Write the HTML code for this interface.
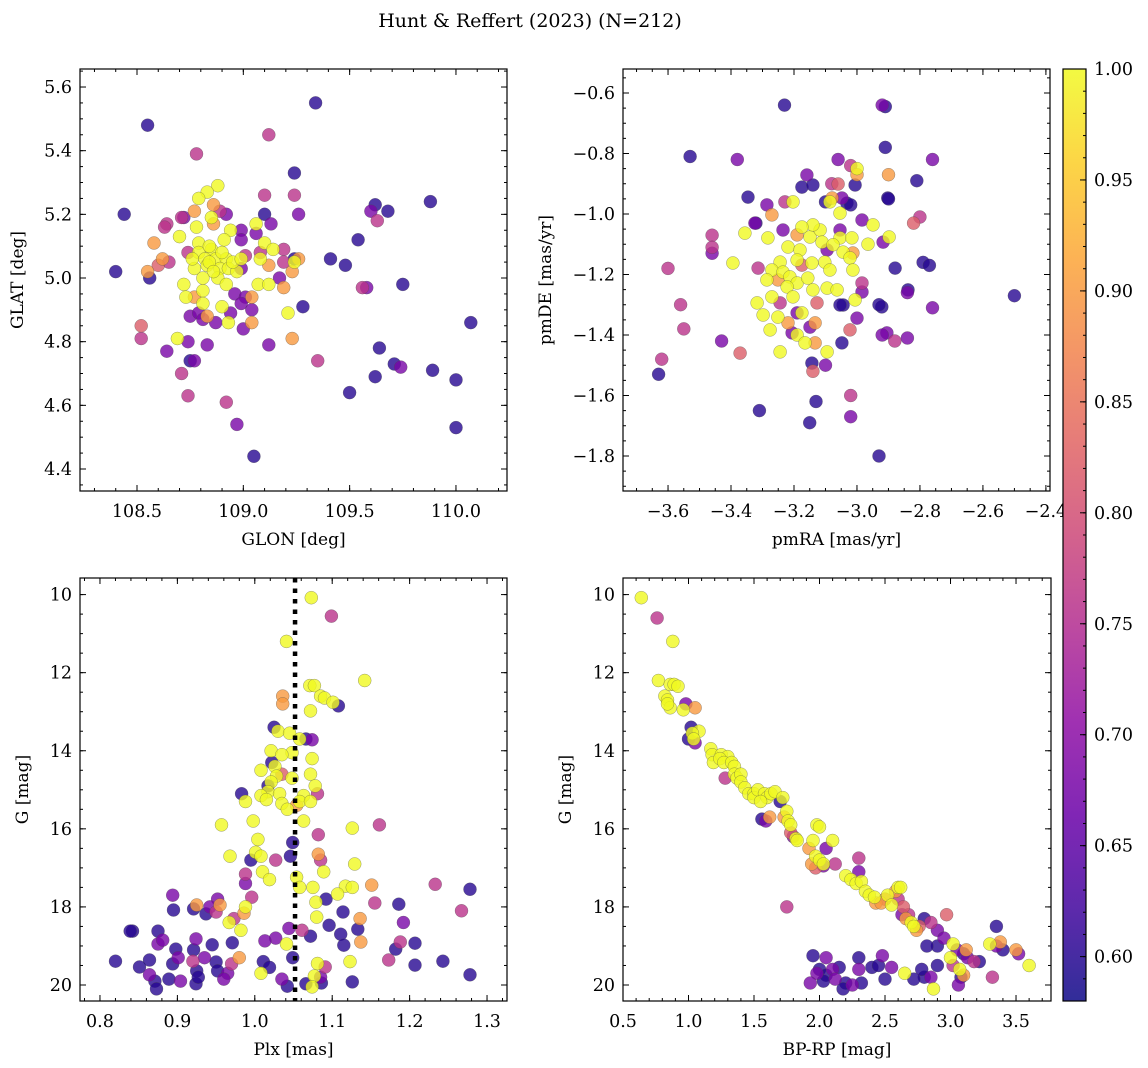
<!DOCTYPE html>
<html>
<head>
<meta charset="utf-8">
<style>
html,body{margin:0;padding:0;background:#fff;}
svg{display:block;font-family:"DejaVu Serif","Liberation Serif",serif;}
</style>
</head>
<body>
<svg id="fig" width="1148" height="1068" viewBox="0 0 1148 1068" xmlns="http://www.w3.org/2000/svg">
<rect x="0" y="0" width="1148" height="1068" fill="#fff"/>
<text x="530" y="27" font-size="19" text-anchor="middle">Hunt &amp; Reffert (2023) (N=212)</text>
</svg>
<script>
// ---------- Panel 1: GLON vs GLAT ----------
const p1Glon = [108.88,108.83,108.79,108.85,108.78,108.70,108.94,109.06,108.79,108.91,108.79,108.85,108.82,108.87,108.92,108.77,108.83,108.89,108.93,108.97,108.88,108.72,108.92,109.10,109.14,109.08,109.24,109.07,109.12,108.81,108.73,108.81,108.90,108.93,109.21,108.69,108.84,108.86,108.90,108.81,108.76,108.95,108.84,108.99,
108.77,108.86,108.86,108.62,109.12,109.23,109.26,109.19,109.04,108.77,108.83,109.04,109.23,108.58,108.55,
108.60,108.52,
109.24,108.64,108.65,109.01,109.19,109.08,108.74,109.19,108.89,109.35,108.63,108.71,108.78,109.12,109.10,108.52,108.71,108.74,108.92,109.63,109.56,
108.92,108.72,109.13,108.99,109.06,108.99,108.99,109.17,108.96,109.01,108.99,108.75,108.79,109.04,108.94,108.81,108.87,109.00,108.83,108.74,109.12,108.64,108.77,109.26,109.60,109.58,109.74,108.97,
108.55,108.44,108.40,108.56,109.34,109.24,109.24,109.28,109.50,109.41,109.48,109.54,109.64,109.62,109.71,109.75,109.88,109.89,110.00,110.07,110.00,109.05,109.10,109.68,109.62,108.75];
const p1Glat = [5.29,5.27,5.25,5.19,5.16,5.13,5.15,5.17,5.11,5.12,5.08,5.09,5.06,5.06,5.06,5.03,5.04,5.03,5.03,5.02,5.00,4.98,4.98,5.11,5.09,5.06,5.05,4.98,4.98,4.96,4.94,4.92,4.91,4.86,4.89,4.81,5.05,5.02,5.08,5.00,5.06,5.05,5.10,5.06,
5.21,5.23,5.17,5.06,5.04,5.02,5.06,4.97,4.94,4.94,4.88,4.86,4.81,5.11,5.02,
5.04,4.85,
5.26,5.17,5.05,5.07,5.09,5.08,5.08,5.05,5.21,4.74,5.16,5.19,5.39,5.45,5.26,4.81,4.70,4.63,4.61,5.18,4.97,
5.20,5.19,5.17,5.15,5.14,5.12,5.03,5.00,4.95,4.94,4.92,4.88,4.89,4.90,4.89,4.87,4.86,4.84,4.79,4.80,4.79,4.77,4.74,5.20,5.21,4.97,4.72,4.54,
5.48,5.20,5.02,5.00,5.55,5.33,5.06,4.91,4.64,5.06,5.04,5.12,4.78,4.69,4.73,4.98,5.24,4.71,4.68,4.86,4.53,4.44,5.20,5.21,5.23,4.74];
const p1Prob = [1,1,1,1,1,1,1,1,1,1,1,1,1,1,1,1,1,1,1,1,1,1,1,1,1,1,1,1,1,1,1,1,1,1,1,1,1,1,1,1,1,1,1,1,
0.9,0.9,0.9,0.9,0.9,0.9,0.9,0.9,0.9,0.9,0.9,0.9,0.9,0.9,0.9,
0.82,0.82,
0.76,0.76,0.76,0.76,0.76,0.76,0.76,0.76,0.76,0.76,0.76,0.76,0.76,0.76,0.76,0.76,0.76,0.76,0.76,0.76,0.76,
0.68,0.68,0.68,0.68,0.68,0.68,0.68,0.68,0.68,0.68,0.68,0.68,0.68,0.68,0.68,0.68,0.68,0.68,0.68,0.68,0.68,0.68,0.68,0.68,0.68,0.68,0.68,0.68,
0.6,0.6,0.6,0.6,0.6,0.6,0.6,0.6,0.6,0.6,0.6,0.6,0.6,0.6,0.6,0.6,0.6,0.6,0.6,0.6,0.6,0.6,0.6,0.6,0.6,0.6];
const p1XTicks = [108.5,109.0,109.5,110.0];
const p1XTickLabels = ["108.5","109.0","109.5","110.0"];
const p1YTicks = [4.4,4.6,4.8,5.0,5.2,5.4,5.6];
const p1YTickLabels = ["4.4","4.6","4.8","5.0","5.2","5.4","5.6"];

// ---------- Panel 2: pmRA vs pmDE ----------
const p2PmRA = [-3.203,-3.086,-3.054,-2.949,-2.898,-3.356,-3.283,-3.219,-3.181,-3.149,-3.117,-3.14,-3.175,-3.111,-3.054,-3.016,-3.076,-3.044,-3.022,-3.102,-3.143,-3.19,-3.244,-3.27,-3.286,-3.235,-3.213,-3.19,-3.222,-3.156,-3.14,-3.095,-3.063,-3.013,-3.086,-3.006,-3.27,-3.317,-3.298,-3.251,-3.276,-3.19,-3.165,-3.175,-3.244,-3.095,-3.203,-3.394,-3.0,-2.965,
-3.079,-3.27,-3.19,-3.219,-3.133,-3.133,-3.251,-3.013,-2.90,-3.0,
-3.175,-3.371,-3.022,-3.127,-3.06,-2.82,-3.14,
-3.314,-3.244,-2.984,-3.229,-3.62,-3.56,-3.55,-3.60,-3.46,-3.46,-3.02,-2.88,-2.80,-3.02,-3.08,
-3.095,-2.984,-3.159,-3.048,-3.286,-3.324,-3.235,-2.917,-3.054,-3.0,-2.905,-2.984,-3.19,-3.149,-3.206,-3.38,-3.46,-3.43,-3.10,-2.92,-3.02,-2.92,-2.84,-2.84,-2.76,-2.76,-3.06,
-3.346,-3.321,-3.044,-3.054,-2.921,-3.048,-2.879,-2.838,-2.902,-3.032,-3.175,-3.14,-3.006,-3.143,-3.63,-3.53,-3.23,-3.31,-3.15,-3.13,-2.91,-2.91,-2.93,-2.90,-2.81,-2.79,-2.77,-2.50,-3.02,-3.10,-2.93];
const p2PmDE = [-0.960,-0.960,-0.997,-1.036,-1.076,-1.063,-1.079,-1.109,-1.119,-1.076,-1.053,-1.036,-1.043,-1.093,-1.079,-1.079,-1.102,-1.126,-1.145,-1.159,-1.162,-1.152,-1.159,-1.185,-1.218,-1.192,-1.208,-1.228,-1.241,-1.212,-1.251,-1.245,-1.251,-1.185,-1.185,-1.284,-1.274,-1.294,-1.334,-1.341,-1.383,-1.400,-1.426,-1.327,-1.456,-1.456,-1.274,-1.162,-0.85,-1.10,
-0.947,-1.003,-1.069,-1.360,-1.360,-1.426,-1.218,-1.129,-0.87,-0.87,
-1.169,-1.46,-1.383,-1.294,-0.901,-1.03,-1.52,
-1.179,-1.294,-1.228,-0.96,-1.48,-1.30,-1.38,-1.18,-1.07,-1.11,-1.60,-1.42,-1.01,-0.84,-0.90,
-1.119,-1.02,-0.871,-0.947,-0.97,-1.03,-1.053,-1.093,-1.053,-1.344,-1.393,-1.258,-1.327,-1.374,-1.393,-0.82,-1.13,-1.42,-1.50,-0.64,-1.67,-1.40,-1.41,-1.26,-1.31,-0.82,-0.82,
-0.944,-1.03,-1.301,-1.301,-1.307,-1.426,-1.179,-1.251,-0.947,-0.964,-0.911,-0.904,-0.904,-1.493,-1.53,-0.81,-0.64,-1.65,-1.69,-1.62,-0.645,-0.78,-1.80,-0.95,-0.89,-1.16,-1.17,-1.27,-0.97,-0.96,-1.30];
const p2Prob = [1,1,1,1,1,1,1,1,1,1,1,1,1,1,1,1,1,1,1,1,1,1,1,1,1,1,1,1,1,1,1,1,1,1,1,1,1,1,1,1,1,1,1,1,1,1,1,1,1,1,
0.9,0.9,0.9,0.9,0.9,0.9,0.9,0.9,0.9,0.9,
0.82,0.82,0.82,0.82,0.82,0.82,0.82,
0.76,0.76,0.76,0.76,0.76,0.76,0.76,0.76,0.76,0.76,0.76,0.76,0.76,0.76,0.76,
0.68,0.68,0.68,0.68,0.68,0.68,0.68,0.68,0.68,0.68,0.68,0.68,0.68,0.68,0.68,0.68,0.68,0.68,0.68,0.68,0.68,0.68,0.68,0.68,0.68,0.68,0.68,
0.6,0.6,0.6,0.6,0.6,0.6,0.6,0.6,0.6,0.6,0.6,0.6,0.6,0.6,0.6,0.6,0.6,0.6,0.6,0.6,0.6,0.6,0.6,0.6,0.6,0.6,0.6,0.6,0.6,0.6,0.6];
const p2XTicks = [-3.6,-3.4,-3.2,-3.0,-2.8,-2.6,-2.4];
const p2XTickLabels = ["\u22123.6","\u22123.4","\u22123.2","\u22123.0","\u22122.8","\u22122.6","\u22122.4"];
const p2YTicks = [-1.8,-1.6,-1.4,-1.2,-1.0,-0.8,-0.6];
const p2YTickLabels = ["\u22121.8","\u22121.6","\u22121.4","\u22121.2","\u22121.0","\u22120.8","\u22120.6"];

// ---------- Panel 3: Plx vs G ----------
const p3Plx = [1.073,1.099,1.041,1.071,1.077,1.036,1.036,1.085,1.090,1.101,1.108,1.072,1.142,1.030,1.025,1.045,1.058,1.066,1.074,1.048,1.021,1.035,1.022,1.074,1.026,1.028,1.021,1.072,1.078,1.048,1.017,1.008,1.063,1.058,1.032,1.035,1.072,1.081,1.015,0.988,0.983,1.042,1.054,1.063,1.008,1.017,1.035,0.957,0.968,0.998,1.004,1.001,1.008,1.126,1.161,1.082,1.082,1.085,1.089,1.129,1.046,1.049,0.995,1.027,1.010,0.988,1.019,1.054,1.058,1.075,1.117,1.126,1.151,1.107,1.079,1.080,1.092,1.114,1.155,1.186,1.192,1.136,1.137,1.133,1.111,1.096,1.072,1.061,1.044,1.027,1.041,1.049,1.013,0.982,0.973,0.986,0.988,0.996,0.955,0.950,0.952,0.988,0.925,0.967,0.937,0.942,0.895,0.894,0.921,0.875,0.924,0.945,0.971,0.970,0.980,0.950,0.920,0.935,0.901,0.894,0.864,0.851,0.820,0.864,0.875,0.881,0.898,0.925,0.924,0.952,0.965,0.960,0.927,0.904,0.871,0.873,0.889,0.842,1.011,1.019,1.008,1.035,1.042,1.066,1.077,1.074,1.086,1.085,1.091,1.081,1.115,1.126,1.123,1.182,1.173,1.188,1.207,1.207,1.233,1.267,1.278,1.278,1.243,0.839,0.921];
const p3G = [10.08,10.55,11.2,12.33,12.33,12.6,12.8,12.6,12.65,12.76,12.85,12.98,12.2,13.5,13.4,13.55,13.7,13.7,13.72,14.05,14.0,14.1,14.3,14.2,14.4,14.65,14.8,14.6,14.9,14.7,15.05,15.15,15.15,15.3,15.1,15.35,15.3,15.1,15.25,15.3,15.1,15.5,15.4,15.8,14.5,14.9,14.6,15.9,16.7,15.8,16.27,16.6,16.7,15.98,15.9,16.15,16.65,16.8,17.1,16.9,16.7,16.35,16.8,16.8,17.1,17.16,17.3,17.24,17.5,17.5,17.47,17.5,17.44,17.67,17.88,18.26,17.8,18.13,17.9,17.93,18.4,18.3,18.9,18.57,18.7,18.47,18.75,18.6,18.55,18.8,18.95,19.3,18.87,18.6,18.3,18.16,18.0,17.75,17.95,18.13,17.8,17.4,17.95,18.4,18.18,18.0,18.08,17.7,18.05,18.62,18.82,18.97,18.92,19.46,19.3,19.41,19.39,19.3,19.3,19.46,19.36,19.54,19.39,19.74,18.95,18.85,19.08,19.64,19.97,19.64,19.7,19.85,19.8,19.9,19.9,20.1,19.85,18.62,19.4,19.55,19.7,19.85,20.03,19.97,19.77,20.05,19.95,19.8,19.54,19.45,18.98,19.92,19.4,19.08,19.36,18.9,19.49,18.93,17.42,18.1,17.55,19.74,19.39,18.62,19.1];
const p3Prob = [1,0.76,1,1,1,0.9,0.9,1,1,1,0.6,1,1,1,0.6,1,1,0.6,0.68,1,1,1,0.6,1,1,1,1,1,1,1,1,1,1,1,1,1,1,0.76,1,1,0.6,1,0.9,1,1,0.6,0.82,1,1,1,1,1,1,1,0.76,0.76,0.9,0.76,1,1,0.6,0.6,0.6,0.76,1,0.76,1,1,1,1,1,1,0.9,1,1,1,0.6,0.6,0.76,0.6,0.68,0.9,0.9,0.6,0.6,0.6,0.6,0.76,0.68,0.68,1,0.6,0.68,1,0.76,0.9,1,0.76,0.9,0.76,0.68,0.68,0.9,1,0.6,0.68,0.6,0.68,0.6,0.6,0.68,0.6,0.6,0.76,0.9,0.6,0.76,0.68,0.68,0.6,0.6,0.6,0.6,0.68,0.68,0.68,0.6,0.6,0.6,0.6,0.68,0.68,0.6,0.68,0.6,0.6,0.6,0.6,0.6,0.6,1,0.68,0.6,0.6,1,1,0.6,0.68,0.76,1,0.6,0.6,1,0.6,0.76,0.76,0.6,0.6,0.76,0.76,0.6,0.6,0.6,0.6,0.6];
const p3XTicks = [0.8,0.9,1.0,1.1,1.2,1.3];
const p3XTickLabels = ["0.8","0.9","1.0","1.1","1.2","1.3"];
const p3YTicks = [10,12,14,16,18,20];
const p3YTickLabels = ["10","12","14","16","18","20"];
const p3PlxReference = [1.052];

// ---------- Panel 4: BP-RP vs G ----------
const p4BpRp = [0.64,0.76,0.88,0.77,0.82,0.84,0.86,0.84,0.86,0.89,0.92,0.98,1.05,0.96,1.02,1.08,1.03,1.04,1.0,1.05,1.17,1.18,1.19,1.25,1.3,1.24,1.27,1.33,1.35,1.28,1.35,1.37,1.4,1.4,1.43,1.46,1.5,1.5,1.53,1.58,1.6,1.55,1.63,1.66,1.7,1.72,1.56,1.59,1.62,1.75,1.76,1.78,1.73,1.78,1.8,1.82,1.83,1.98,2.0,1.95,1.92,1.97,2.0,2.03,2.1,2.05,1.94,1.97,2.03,2.12,2.2,2.24,2.3,2.3,2.28,2.32,2.35,2.38,2.42,2.43,2.47,2.5,2.52,2.55,2.6,2.62,2.58,2.6,2.64,2.66,2.7,2.72,2.74,2.68,2.76,2.63,2.8,2.85,2.9,2.9,2.95,2.97,3.02,3.05,3.0,3.02,3.07,3.1,3.12,3.13,3.18,3.22,3.3,3.35,3.35,3.38,3.32,3.4,3.5,3.52,3.6,2.82,2.9,2.8,2.87,3.06,3.08,3.1,1.75,
1.95,2.05,2.0,1.98,2.05,2.1,2.15,2.12,2.2,2.18,1.93,2.03,2.3,2.3,2.4,2.32,2.48,2.5,2.55,2.65,2.72,2.78,2.85,2.25,2.45];
const p4G = [10.08,10.6,11.2,12.2,12.6,12.7,12.9,12.8,12.3,12.3,12.35,12.8,12.9,12.95,13.4,13.5,13.55,13.7,13.7,13.8,13.95,14.1,14.3,14.1,14.15,14.2,14.3,14.3,14.4,14.7,14.6,14.7,14.6,14.8,14.95,15.1,15.1,15.2,15.0,15.1,15.2,15.3,15.1,15.05,15.3,15.2,15.75,15.8,15.7,15.55,15.8,15.9,15.7,16.1,16.2,16.25,16.3,15.9,15.95,16.3,16.5,16.7,16.8,16.9,16.3,16.5,16.9,17.0,16.95,16.9,17.2,17.3,17.1,16.75,17.4,17.35,17.6,17.7,17.75,17.9,17.9,17.8,17.7,17.95,17.5,17.5,17.6,17.8,18.0,18.3,18.4,18.5,18.6,18.2,18.5,18.2,18.3,18.4,18.6,19.0,18.8,18.2,18.95,19.1,19.3,19.5,19.6,19.2,19.1,19.3,19.4,19.4,18.95,18.5,19.0,18.9,19.8,19.1,19.1,19.2,19.5,19.0,19.5,19.8,20.1,20.0,19.8,19.75,18.0,
19.25,19.3,19.6,19.7,19.75,19.6,19.55,19.85,19.95,20.1,19.95,19.9,19.3,19.6,19.55,19.95,19.25,19.85,19.55,19.7,19.85,19.6,19.8,20.0,19.5];
const p4Prob = [1,0.76,1,1,1,1,1,1,1,1,1,0.68,0.9,1,0.6,1,1,1,0.6,0.68,1,1,1,1,1,1,1,1,1,0.76,1,1,1,1,1,1,1,1,1,1,1,1,1,1,0.6,1,0.6,0.68,0.9,1,1,1,0.9,0.82,0.68,1,1,1,1,1,0.9,1,1,1,1,0.68,0.9,0.82,0.68,0.76,1,1,0.68,0.76,1,1,1,1,1,0.9,0.9,0.82,1,1,1,1,0.9,0.76,0.82,0.9,1,1,0.9,0.76,0.82,0.68,0.6,0.76,0.68,0.6,0.68,0.82,1,0.68,1,0.76,1,0.6,0.9,0.68,0.76,0.6,1,0.6,0.68,0.9,0.76,0.6,0.9,0.68,1,0.6,0.6,0.6,1,0.68,0.6,0.9,0.76,
0.6,0.68,0.6,0.68,0.6,0.68,0.6,0.68,0.6,0.6,0.68,0.6,0.6,0.68,0.6,0.6,0.68,0.6,0.68,1,0.6,0.6,0.68,0.68,0.6];
const p4XTicks = [0.5,1.0,1.5,2.0,2.5,3.0,3.5];
const p4XTickLabels = ["0.5","1.0","1.5","2.0","2.5","3.0","3.5"];
const p4YTicks = [10,12,14,16,18,20];
const p4YTickLabels = ["10","12","14","16","18","20"];

// ---------- Colorbar ----------
const cbTicks = [0.60,0.65,0.70,0.75,0.80,0.85,0.90,0.95,1.00];
const cbTickLabels = ["0.60","0.65","0.70","0.75","0.80","0.85","0.90","0.95","1.00"];
const cbRange = [0.58,1.0];

const NS = "http://www.w3.org/2000/svg";
const svg = document.getElementById("fig");
const plasmaStops = ["#0d0887","#41049d","#6a00a8","#8f0da4","#b12a90","#cc4778","#e16462","#f2844b","#fca636","#fcce25","#f0f921"];
function hex(h){return [parseInt(h.substr(1,2),16),parseInt(h.substr(3,2),16),parseInt(h.substr(5,2),16)];}
function plasma(t){
  t=Math.max(0,Math.min(1,t));
  const f=t*10, i=Math.min(9,Math.floor(f)), u=f-i;
  const a=hex(plasmaStops[i]), b=hex(plasmaStops[i+1]);
  return "rgb("+a.map((v,k)=>Math.round(v+(b[k]-v)*u)).join(",")+")";
}
function colorOf(c){return plasma((c-cbRange[0])/(cbRange[1]-cbRange[0]));}
function mk(tag, attrs, parent){
  const e=document.createElementNS(NS,tag);
  for(const k in attrs) e.setAttribute(k,attrs[k]);
  (parent||svg).appendChild(e);
  return e;
}
const TICK_FS = 17.5, TITLE_FS = 17;

function panel(cfg){
  const g=mk("g",{});
  
  
  const {x0,x1,y0,y1}=cfg.box;
  const sx=v=>x0+(v-cfg.xd[0])/(cfg.xd[1]-cfg.xd[0])*(x1-x0);
  const sy=v=>y0+(v-cfg.yd[0])/(cfg.yd[1]-cfg.yd[0])*(y1-y0);
  const n=Math.min(cfg.xs.length,cfg.ys.length,cfg.cs.length);
  const idx=[...Array(n).keys()].sort((a,b)=>cfg.cs[a]-cfg.cs[b]);
  const pg=mk("g",{},g);
  
  
  for(const i of idx){
    const c=mk("circle",{cx:sx(cfg.xs[i]).toFixed(1),cy:sy(cfg.ys[i]).toFixed(1),r:6.5,fill:colorOf(cfg.cs[i]),"fill-opacity":0.8,stroke:"#4a4a4a","stroke-opacity":0.55,"stroke-width":0.5},pg);
    
    
  }
  if(cfg.extra) cfg.extra(g,sx,sy);
  const fr=mk("rect",{x:x0,y:y0,width:x1-x0,height:y1-y0,fill:"none",stroke:"#000","stroke-width":1.2},g);
  
  
  const tg=mk("g",{stroke:"#000","stroke-width":1},g);
  
  
  const lo=Math.min(...cfg.xd), hi=Math.max(...cfg.xd);
  for(let k=Math.ceil(lo/cfg.xMinor-1e-6);k*cfg.xMinor<=hi+1e-9;k++){
    const X=sx(k*cfg.xMinor);
    mk("line",{x1:X,x2:X,y1:y1,y2:y1-3},tg); mk("line",{x1:X,x2:X,y1:y0,y2:y0+3},tg);
  }
  const ylo=Math.min(...cfg.yd), yhi=Math.max(...cfg.yd);
  for(let k=Math.ceil(ylo/cfg.yMinor-1e-6);k*cfg.yMinor<=yhi+1e-9;k++){
    const Y=sy(k*cfg.yMinor);
    mk("line",{x1:x0,x2:x0+3,y1:Y,y2:Y},tg); mk("line",{x1:x1,x2:x1-3,y1:Y,y2:Y},tg);
  }
  cfg.xt.forEach((v,i)=>{
    const X=sx(v);
    mk("line",{x1:X,x2:X,y1:y1,y2:y1-6},tg); mk("line",{x1:X,x2:X,y1:y0,y2:y0+6},tg);
    const t=mk("text",{x:X,y:y1+26,"font-size":TICK_FS,"text-anchor":"middle"},g);
    t.textContent=cfg.xl[i];
    
    
  });
  cfg.yt.forEach((v,i)=>{
    const Y=sy(v);
    mk("line",{x1:x0,x2:x0+6,y1:Y,y2:Y},tg); mk("line",{x1:x1,x2:x1-6,y1:Y,y2:Y},tg);
    const t=mk("text",{x:x0-8,y:Y+6,"font-size":TICK_FS,"text-anchor":"end"},g);
    t.textContent=cfg.yl[i];
    
    
  });
  const xt=mk("text",{x:(x0+x1)/2,y:y1+54,"font-size":TITLE_FS,"text-anchor":"middle"},g);
  xt.textContent=cfg.xTitle;
  
  
  const yc=(y0+y1)/2;
  const yt=mk("text",{x:cfg.yTitleX,y:yc,"font-size":TITLE_FS,"text-anchor":"middle",transform:"rotate(-90 "+cfg.yTitleX+" "+yc+")"},g);
  yt.textContent=cfg.yTitle;
  
  
}

panel({name:"glon-glat-panel",box:{x0:80,x1:507,y0:69,y1:491},xd:[108.232,110.240],yd:[5.6566,4.3309],
  xs:p1Glon,ys:p1Glat,cs:p1Prob,xt:p1XTicks,xl:p1XTickLabels,yt:p1YTicks,yl:p1YTickLabels,xMinor:0.1,yMinor:0.05,
  xTitle:"GLON [deg]",yTitle:"GLAT [deg]",yTitleX:23});
panel({name:"pm-panel",box:{x0:623,x1:1050,y0:69,y1:491},xd:[-3.743,-2.387],yd:[-0.5207,-1.9157],
  xs:p2PmRA,ys:p2PmDE,cs:p2Prob,xt:p2XTicks,xl:p2XTickLabels,yt:p2YTicks,yl:p2YTickLabels,xMinor:0.05,yMinor:0.05,
  xTitle:"pmRA [mas/yr]",yTitle:"pmDE [mas/yr]",yTitleX:551});
panel({name:"plx-g-panel",box:{x0:80,x1:507,y0:578,y1:1001},xd:[0.7742,1.3258],yd:[9.575,20.41],
  xs:p3Plx,ys:p3G,cs:p3Prob,xt:p3XTicks,xl:p3XTickLabels,yt:p3YTicks,yl:p3YTickLabels,xMinor:0.02,yMinor:0.5,
  xTitle:"Plx [mas]",yTitle:"G [mag]",yTitleX:28,
  extra:(g,sx,sy)=>{
    p3PlxReference.forEach(v=>{
      const l=mk("line",{x1:sx(v),x2:sx(v),y1:578,y2:1001,stroke:"#000","stroke-width":4.5,"stroke-dasharray":"4.5,6"},g);
      
      
    });
  }});
panel({name:"cmd-panel",box:{x0:623,x1:1051,y0:578,y1:1001},xd:[0.5,3.767],yd:[9.575,20.41],
  xs:p4BpRp,ys:p4G,cs:p4Prob,xt:p4XTicks,xl:p4XTickLabels,yt:p4YTicks,yl:p4YTickLabels,xMinor:0.1,yMinor:0.5,
  xTitle:"BP-RP [mag]",yTitle:"G [mag]",yTitleX:571});

(function(){
  const cx0=1063,cx1=1086,cy0=69,cy1=1001;
  const cg=mk("g",{});
  
  
  const defs=mk("defs",{},cg);
  const lg=mk("linearGradient",{id:"plasmaGrad",x1:0,y1:1,x2:0,y2:0},defs);
  for(let i=0;i<=20;i++){mk("stop",{offset:i/20,"stop-color":plasma(i/20),"stop-opacity":0.85},lg);}
  mk("rect",{x:cx0,y:cy0,width:cx1-cx0,height:cy1-cy0,fill:"#fff"},cg);
  const r=mk("rect",{x:cx0,y:cy0,width:cx1-cx0,height:cy1-cy0,fill:"url(#plasmaGrad)",stroke:"#000","stroke-width":1.2},cg);
  
  
  const sy=v=>cy1-(v-cbRange[0])/(cbRange[1]-cbRange[0])*(cy1-cy0);
  for(let k=Math.ceil(cbRange[0]*100);k<=cbRange[1]*100;k++){
    const Y=sy(k/100);
    mk("line",{x1:cx1,x2:cx1-3,y1:Y,y2:Y,stroke:"#000","stroke-width":1},cg);
  }
  cbTicks.forEach((v,i)=>{
    const Y=sy(v);
    mk("line",{x1:cx1,x2:cx1-6,y1:Y,y2:Y,stroke:"#000","stroke-width":1},cg);
    const t=mk("text",{x:cx1+8,y:Y+6,"font-size":TICK_FS},cg);
    t.textContent=cbTickLabels[i];
    
    
  });
})();
</script>
</body>
</html>
